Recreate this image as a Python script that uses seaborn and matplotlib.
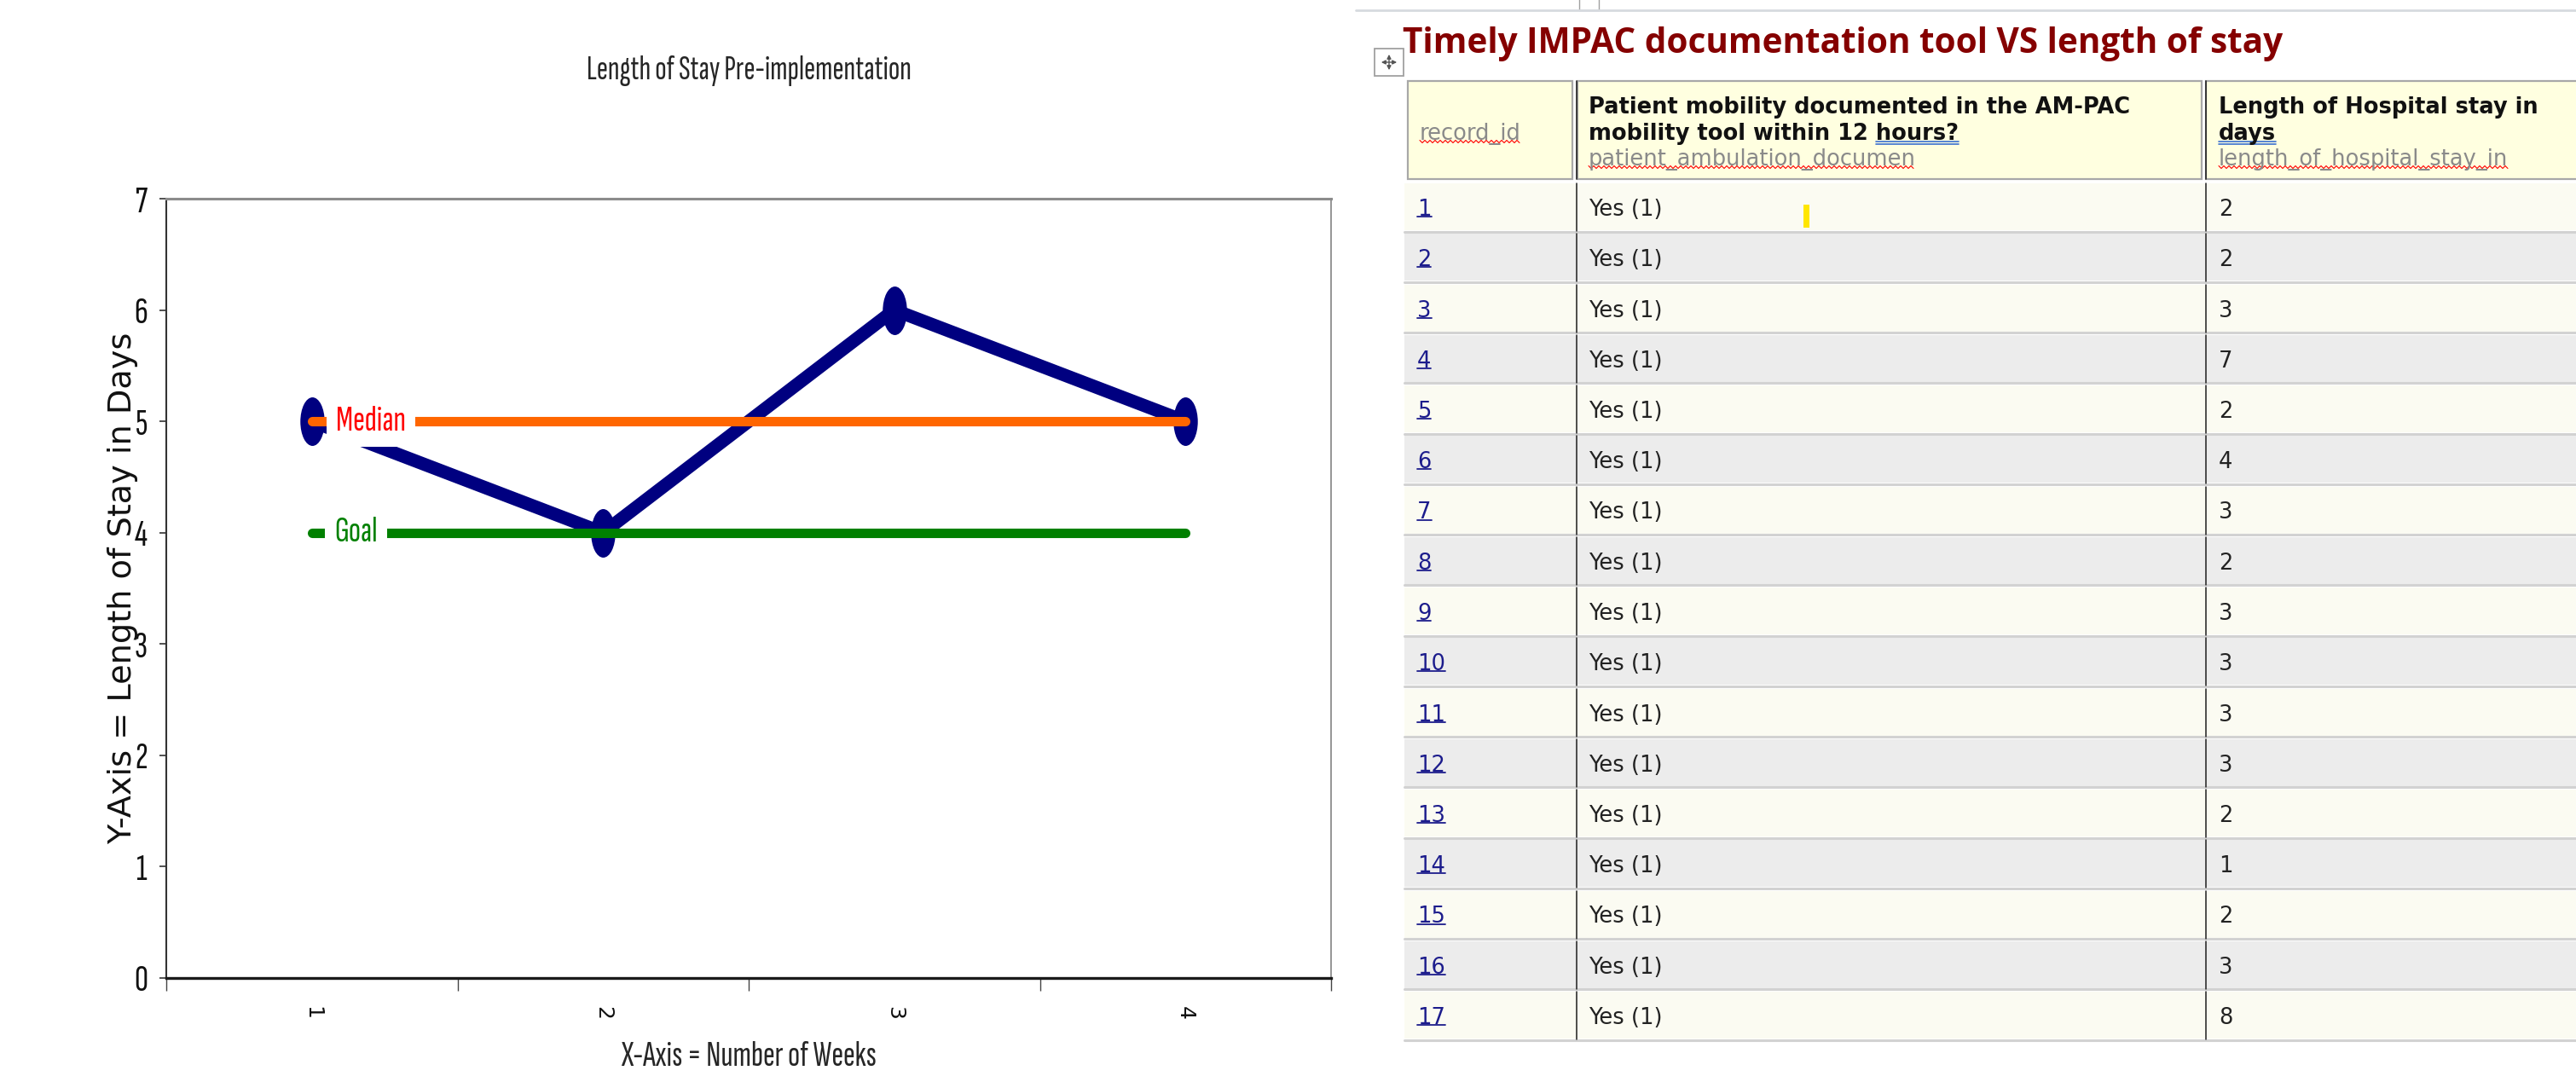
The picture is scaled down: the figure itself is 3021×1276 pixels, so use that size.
import numpy as np
import seaborn as sns
import matplotlib
matplotlib.use('Agg')
from matplotlib import pyplot as plt
from matplotlib.path import Path
from matplotlib.transforms import Affine2D
from matplotlib.patches import Rectangle

# chart data
weeks = [1, 2, 3, 4]
week_labels = ['1', '2', '3', '4']
stay_days = [5, 4, 6, 5]
median_days = 5
goal_days = 4
y_ticks = [0, 1, 2, 3, 4, 5, 6, 7]
chart_title = 'Length of Stay Pre-implementation'
x_title = 'X-Axis = Number of Weeks'
y_title = 'Y-Axis = Length of Stay in Days'

# table data
table_title = 'Timely IMPAC documentation tool VS length of stay'
record_ids = list(range(1, 18))
mobility = ['Yes (1)'] * 17
hospital_days = [2, 2, 3, 7, 2, 4, 3, 2, 3, 3, 3, 3, 2, 1, 2, 3, 8]

NAVY = '#000080'
ORANGE = '#FF6600'
GREEN = '#008000'
LINK = '#1C1C8C'

sns.set_style('white')
plt.rcParams['font.family'] = ['DejaVu Sans']
narrow = ['Sofia Sans Extra Condensed', 'DejaVu Sans']

W, H = 3021, 1276
fig = plt.figure(figsize=(W / 100, H / 100), dpi=100)
fig.patch.set_facecolor('white')

# full-size canvas in pixel units for the table side
bg = fig.add_axes([0, 0, 1, 1])
bg.set_xlim(0, W)
bg.set_ylim(H, 0)
bg.axis('off')

# ---------- left chart ----------
ax = fig.add_axes([195 / W, 1 - 1147 / H, 1366 / W, 914 / H])
ax.set_facecolor('white')

oval = Affine2D().scale(0.5, 1.0).transform_path(Path.unit_circle())
sns.lineplot(x=weeks, y=stay_days, ax=ax, color=NAVY, linewidth=11,
             marker=oval, markersize=41, mec=NAVY, mew=0, zorder=2)
sns.lineplot(x=[weeks[0], weeks[-1]], y=[median_days] * 2, ax=ax, color=ORANGE,
             linewidth=8, solid_capstyle='round', zorder=3)
sns.lineplot(x=[weeks[0], weeks[-1]], y=[goal_days] * 2, ax=ax, color=GREEN,
             linewidth=8, solid_capstyle='round', zorder=3)

box = dict(facecolor='white', edgecolor='none', pad=8)
ax.text(1.083, median_days, 'Median', color='#FF0000', fontsize=30, family=narrow,
        va='center', ha='left', bbox=box, zorder=5)
ax.text(1.077, goal_days, 'Goal', color=GREEN, fontsize=30, family=narrow,
        va='center', ha='left', bbox=box, zorder=5)

ax.set_xlim(weeks[0] - 0.5, weeks[-1] + 0.5)
ax.set_ylim(y_ticks[0], y_ticks[-1])
ax.set_yticks(y_ticks)
ax.set_yticklabels([str(v) for v in y_ticks], family=narrow)
ax.set_xticks([w - 0.5 for w in weeks] + [weeks[-1] + 0.5])
ax.set_xticklabels([])
ax.set_xticks(weeks, minor=True)
ax.set_xticklabels(week_labels, minor=True, rotation=-90)
ax.tick_params(axis='y', direction='out', length=6, width=1.2, color='#333333',
               labelsize=32, pad=10, labelcolor='#111111', left=True)
ax.tick_params(axis='x', which='major', direction='out', length=11, width=1,
               color='#444444', bottom=True)
ax.tick_params(axis='x', which='minor', length=0, pad=24, labelsize=18,
               labelcolor='#111111')

for side, c, lw in [('top', '#8C8C8C', 2.2), ('right', '#8C8C8C', 1.3),
                    ('left', '#333333', 1.5), ('bottom', '#1A1A1A', 2.4)]:
    ax.spines[side].set_visible(True)
    ax.spines[side].set_color(c)
    ax.spines[side].set_linewidth(lw)

ax.set_title(chart_title, family=narrow, fontsize=28.5, y=1.164, va='center', pad=0)
ax.set_xlabel(x_title, family=narrow, fontsize=30)
ax.xaxis.set_label_coords(0.5, -0.1007)
ax.xaxis.label.set_va('center')
ax.set_ylabel(y_title, fontsize=27.5, color='#111111')
ax.yaxis.set_label_coords(-0.0375, 0.5)
ax.yaxis.label.set_va('center')

# ---------- right table ----------
renderer = fig.canvas.get_renderer()


def text_width(s, font):
    t = bg.text(0, 0, s, **font)
    w = t.get_window_extent(renderer).width
    t.remove()
    return w


def underline(t, line_color, part=None, font=None, style='plain', offset=3):
    bb = t.get_window_extent(renderer)
    x0, x1 = bb.x0, bb.x1
    if part:
        x0 = x1 - text_width(part, font)
    y = H - (bb.y0 + offset)
    if style == 'wavy':
        xs = np.arange(x0, x1, 3.0)
        ys = y + np.tile([-1.5, 1.5], len(xs))[:len(xs)]
        bg.plot(xs, ys, color=line_color, lw=0.8)
    elif style == 'double':
        bg.plot([x0, x1], [y, y], color=line_color, lw=1.2)
        bg.plot([x0, x1], [y + 3, y + 3], color=line_color, lw=1.2)
    else:
        bg.plot([x0, x1], [y, y], color=line_color, lw=1.3)


# top strip of the page
bg.plot([1590, W], [12, 12], color='#D6DADF', lw=2)
bg.add_patch(Rectangle((1852, -2), 23, 14, fc='white', ec='#A0A0A0', lw=1))

# move handle
bg.add_patch(Rectangle((1612, 57), 34, 32, fc='white', ec='#A0A0A0', lw=1.3))
bg.annotate('', xy=(1641, 73), xytext=(1617, 73),
            arrowprops=dict(arrowstyle='<|-|>', color='#555555', lw=1, mutation_scale=7))
bg.annotate('', xy=(1629, 85), xytext=(1629, 61),
            arrowprops=dict(arrowstyle='<|-|>', color='#555555', lw=1, mutation_scale=7))

bg.text(1645, 62, table_title, family='Open Sans', weight='bold', fontsize=29.2,
        color='#850000', va='baseline', ha='left')

# header cells
head_top, head_bot = 95, 210
for x0, w in [(1651, 193), (1850, 732), (2587, 460)]:
    bg.add_patch(Rectangle((x0, head_top), w, head_bot - head_top,
                           fc='#FFFFE0', ec='#A8A8A8', lw=1.6))
bg.plot([1849, 1849], [head_top, head_bot], color='#222222', lw=1.2)
bg.plot([2587, 2587], [head_top, head_bot], color='#222222', lw=1.2)

fs = 18.5
gray_kw = dict(fontsize=fs, color='#8A8A8A')
bold_kw = dict(fontsize=fs, color='#111111', weight='bold')

t = bg.text(1665, 157, 'record_id', va='center', **gray_kw)
underline(t, 'red', style='wavy', offset=4)

bg.text(1863, 126, 'Patient mobility documented in the AM-PAC', va='center', **bold_kw)
t = bg.text(1863, 157, 'mobility tool within 12 hours?', va='center', **bold_kw)
underline(t, '#3A6FD0', part='hours?', font=bold_kw, style='double', offset=4)
t = bg.text(1863, 187, 'patient_ambulation_documen', va='center', **gray_kw)
underline(t, 'red', style='wavy', offset=4)

bg.text(2602, 126, 'Length of Hospital stay in', va='center', **bold_kw)
t = bg.text(2602, 157, 'days', va='center', **bold_kw)
underline(t, '#3A6FD0', style='double', offset=4)
t = bg.text(2602, 187, 'length_of_hospital_stay_in', va='center', **gray_kw)
underline(t, 'red', style='wavy', offset=4)

# body rows
row_h = 59.25
first_top = 215
for i, (rid, mob, days) in enumerate(zip(record_ids, mobility, hospital_days)):
    top = first_top + i * row_h
    fc = '#FBFBF2' if i % 2 == 0 else '#ECECEC'
    bg.add_patch(Rectangle((1647, top), W - 1647 + 10, 55, fc=fc, ec='none'))
    bg.plot([1647, W], [top + 56.5] * 2, color='#D2D2D2', lw=2.2)
    for xv in (1849, 2587):
        bg.plot([xv, xv], [top, top + 56], color='#1E1E1E', lw=1.1)
    cy = top + 31
    t = bg.text(1662, cy, str(rid), color=LINK, fontsize=fs, va='center')
    underline(t, LINK, offset=5)
    bg.text(1863, cy, mob, color='#222222', fontsize=fs, va='center')
    bg.text(2602, cy, str(days), color='#222222', fontsize=fs, va='center')

# text cursor mark in the first row
bg.add_patch(Rectangle((2115, 240), 7, 27, fc='#FFE600', ec='none'))

fig.savefig('out.png', dpi=100)
